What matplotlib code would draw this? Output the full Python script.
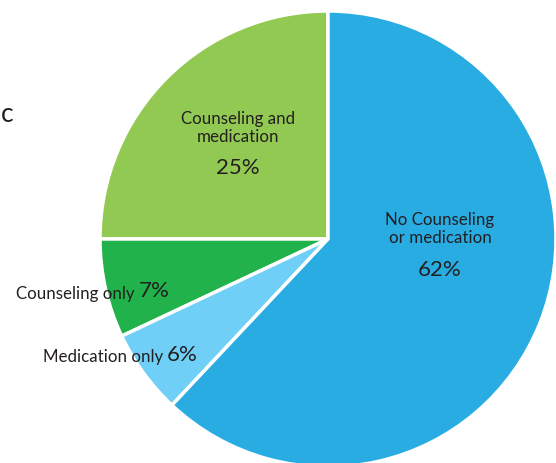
import matplotlib
matplotlib.use("Agg")
import matplotlib.pyplot as plt

categories = ["Counseling and\nmedication", "Counseling only", "Medication only", "No Counseling\nor medication"]
values = [25, 7, 6, 62]
pct_labels = ["25%", "7%", "6%", "62%"]
colors = ["#92C953", "#21B24B", "#6FCFF6", "#28ACE2"]

plt.rcParams['font.family'] = ['Lato', 'DejaVu Sans']

fig = plt.figure(figsize=(5.56, 4.64), dpi=100)
ax = fig.add_axes([0, 0, 1, 1])
R = 228.0
cx, cy = 328.0, 240.0
ax.pie(values, colors=colors, startangle=90, counterclock=True, radius=1.0,
       wedgeprops=dict(edgecolor="white", linewidth=2.5))
ax.set_xlim(-cx / R, (556 - cx) / R)
ax.set_ylim((cy - 464) / R, cy / R)
ax.set_aspect('equal')
ax.axis('off')

def P(px, py):
    return ((px - cx) / R, (cy - py) / R)

tc = "#231F20"
fs_l = 12.2
fs_p = 16
ax.text(*P(238, 128), categories[0], ha='center', va='center', fontsize=fs_l, color=tc, linespacing=1.15)
ax.text(*P(238, 168), pct_labels[0], ha='center', va='center', fontsize=fs_p, color=tc)
ax.text(*P(440, 229), categories[3], ha='center', va='center', fontsize=fs_l, color=tc, linespacing=1.15)
ax.text(*P(440, 270), pct_labels[3], ha='center', va='center', fontsize=fs_p, color=tc)
ax.text(*P(135, 294), categories[1], ha='right', va='center', fontsize=fs_l, color=tc)
ax.text(*P(139, 291), pct_labels[1], ha='left', va='center', fontsize=fs_p, color=tc)
ax.text(*P(163, 357), categories[2], ha='right', va='center', fontsize=fs_l, color=tc)
ax.text(*P(167, 355), pct_labels[2], ha='left', va='center', fontsize=fs_p, color=tc)
ax.text(*P(1, 114), "c", ha='left', va='center', fontsize=19, color=tc)

fig.savefig("out.png", dpi=100)
